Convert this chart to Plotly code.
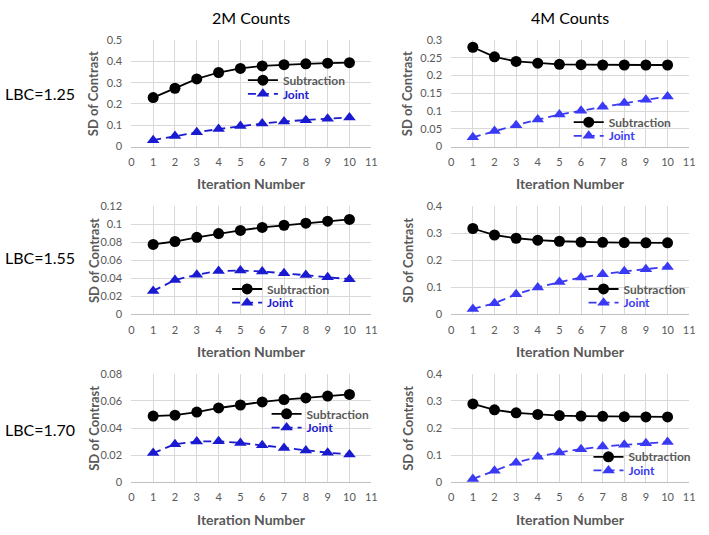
import plotly.graph_objects as go

W, H = 709, 535

iterations = [1, 2, 3, 4, 5, 6, 7, 8, 9, 10]

# 2M counts
sub_2m_125 = [0.230, 0.274, 0.318, 0.348, 0.367, 0.379, 0.385, 0.389, 0.392, 0.394]
joint_2m_125 = [0.030, 0.050, 0.067, 0.082, 0.096, 0.108, 0.118, 0.124, 0.131, 0.137]
sub_2m_155 = [0.0775, 0.0807, 0.0854, 0.0895, 0.0930, 0.0963, 0.0987, 0.1010, 0.1032, 0.1052]
joint_2m_155 = [0.026, 0.038, 0.044, 0.048, 0.0485, 0.0475, 0.0455, 0.0435, 0.041, 0.039]
sub_2m_170 = [0.0488, 0.0495, 0.0518, 0.0548, 0.0570, 0.0593, 0.0610, 0.0622, 0.0636, 0.0648]
joint_2m_170 = [0.0215, 0.0280, 0.0300, 0.0302, 0.0290, 0.0272, 0.0253, 0.0234, 0.0218, 0.0205]

# 4M counts
sub_4m_125 = [0.280, 0.253, 0.240, 0.235, 0.232, 0.231, 0.230, 0.230, 0.230, 0.230]
joint_4m_125 = [0.026, 0.044, 0.060, 0.076, 0.090, 0.101, 0.112, 0.123, 0.132, 0.141]
sub_4m_155 = [0.317, 0.293, 0.281, 0.274, 0.270, 0.267, 0.266, 0.265, 0.264, 0.264]
joint_4m_155 = [0.020, 0.041, 0.074, 0.099, 0.119, 0.136, 0.148, 0.159, 0.167, 0.175]
sub_4m_170 = [0.289, 0.267, 0.256, 0.250, 0.246, 0.244, 0.243, 0.242, 0.241, 0.241]
joint_4m_170 = [0.012, 0.042, 0.072, 0.094, 0.110, 0.122, 0.132, 0.138, 0.144, 0.148]

col_titles = ["2M Counts", "4M Counts"]
row_labels = ["LBC=1.25", "LBC=1.55", "LBC=1.70"]

# panel order: top-left, top-right, middle-left, middle-right, bottom-left, bottom-right
panels = [
    (sub_2m_125, joint_2m_125, 0.5, 0.1),
    (sub_4m_125, joint_4m_125, 0.3, 0.05),
    (sub_2m_155, joint_2m_155, 0.12, 0.02),
    (sub_4m_155, joint_4m_155, 0.4, 0.1),
    (sub_2m_170, joint_2m_170, 0.08, 0.02),
    (sub_4m_170, joint_4m_170, 0.4, 0.1),
]

FONT = "Lato"
GREY = "#595959"
BLUE_L = "#1a1ad0"
BLUE_R = "#3a3af5"

# plot areas in pixels (x0, x1) and (ytop, ybottom)
col_px = [(130, 373), (454, 695)]
row_px = [(34, 143), (204, 315), (376, 487)]
row_label_y = [89, 257, 433]
# legend text start (x) and first entry centre (y) in pixels
legend_px = [(283, 75), (613, 118), (267, 289), (628, 289), (307, 417), (633, 461)]
LEG_STEP = 14


def px_x(p):
    return p / W


def px_y(p):
    return 1 - p / H


fig = go.Figure()
layout = dict(
    width=W, height=H,
    margin=dict(l=0, r=0, t=0, b=0),
    paper_bgcolor="white", plot_bgcolor="white",
    font=dict(family=FONT, color=GREY),
    showlegend=True,
)
annotations = []

for i, (sub, joint, ymax, dt) in enumerate(panels):
    r, c = divmod(i, 2)
    n = "" if i == 0 else str(i + 1)
    blue = BLUE_L if c == 0 else BLUE_R
    leg_s = "legend" + ("" if i == 0 else str(2 * i + 1))
    leg_j = "legend" + str(2 * i + 2)

    fig.add_trace(go.Scatter(
        x=iterations, y=sub, name="Subtraction", mode="lines+markers",
        line=dict(color="black", width=1.8),
        marker=dict(symbol="circle", size=11, color="black"),
        xaxis="x" + n, yaxis="y" + n, legend=leg_s,
    ))
    fig.add_trace(go.Scatter(
        x=iterations, y=joint, name="<span style='color:%s'>Joint</span>" % blue,
        mode="lines+markers",
        line=dict(color=blue, width=1.8, dash="8px,5px"),
        marker=dict(symbol="triangle-up", size=11, color=blue),
        xaxis="x" + n, yaxis="y" + n, legend=leg_j,
    ))

    x0, x1 = col_px[c]
    yt, yb = row_px[r]
    layout["xaxis" + n] = dict(
        domain=[px_x(x0), px_x(x1)], anchor="y" + n,
        range=[0, 11], dtick=1, tick0=0,
        showgrid=True, gridcolor="#d9d9d9", gridwidth=1, zeroline=False,
        showline=True, linecolor="#bfbfbf", linewidth=1,
        ticks="outside", ticklen=5, tickcolor="rgba(0,0,0,0)",
        tickfont=dict(size=11, color=GREY),
    )
    layout["yaxis" + n] = dict(
        domain=[px_y(yb), px_y(yt)], anchor="x" + n,
        range=[0, ymax], dtick=dt, tick0=0,
        showgrid=True, gridcolor="#d9d9d9", gridwidth=1, zeroline=False,
        showline=False,
        ticks="outside", ticklen=6, tickcolor="rgba(0,0,0,0)",
        tickfont=dict(size=11, color=GREY),
    )

    lx, ly = legend_px[i]
    for k, leg in enumerate([leg_s, leg_j]):
        layout[leg] = dict(
            x=px_x(lx - 40), y=px_y(ly + k * LEG_STEP), xanchor="left", yanchor="middle",
            bgcolor="rgba(0,0,0,0)", borderwidth=0,
            font=dict(family=FONT, size=12, color=GREY, weight="bold"),
            itemwidth=30,
        )

    # axis titles
    annotations.append(dict(
        text="<b>Iteration Number</b>", x=px_x((x0 + x1) / 2), y=px_y(yb + 38),
        xref="paper", yref="paper", showarrow=False,
        font=dict(size=14, color=GREY), xanchor="center", yanchor="middle",
    ))
    annotations.append(dict(
        text="<b>SD of Contrast</b>", x=px_x(x0 - 38 if c == 0 else x0 - 44),
        y=px_y((yt + yb) / 2),
        xref="paper", yref="paper", showarrow=False, textangle=-90,
        font=dict(size=13, color=GREY), xanchor="center", yanchor="middle",
    ))

for c, t in enumerate(col_titles):
    x0, x1 = col_px[c]
    annotations.append(dict(
        text=t, x=px_x((x0 + x1) / 2), y=px_y(11), xref="paper", yref="paper",
        showarrow=False, font=dict(size=16, color="black"),
        xanchor="center", yanchor="middle",
    ))

for r, t in enumerate(row_labels):
    annotations.append(dict(
        text=t, x=0, y=px_y(row_label_y[r]), xref="paper", yref="paper",
        showarrow=False, font=dict(size=16, color="black"),
        xanchor="left", yanchor="middle",
    ))

layout["annotations"] = annotations
fig.update_layout(**layout)

# drop the default page margin so the figure sits at the window's corner
page_fix = ("document.documentElement.style.margin='0';"
            "document.body.style.margin='0';"
            "document.body.style.overflow='hidden';")
fig.write_html("out.html", config={"displayModeBar": False}, post_script=page_fix)
